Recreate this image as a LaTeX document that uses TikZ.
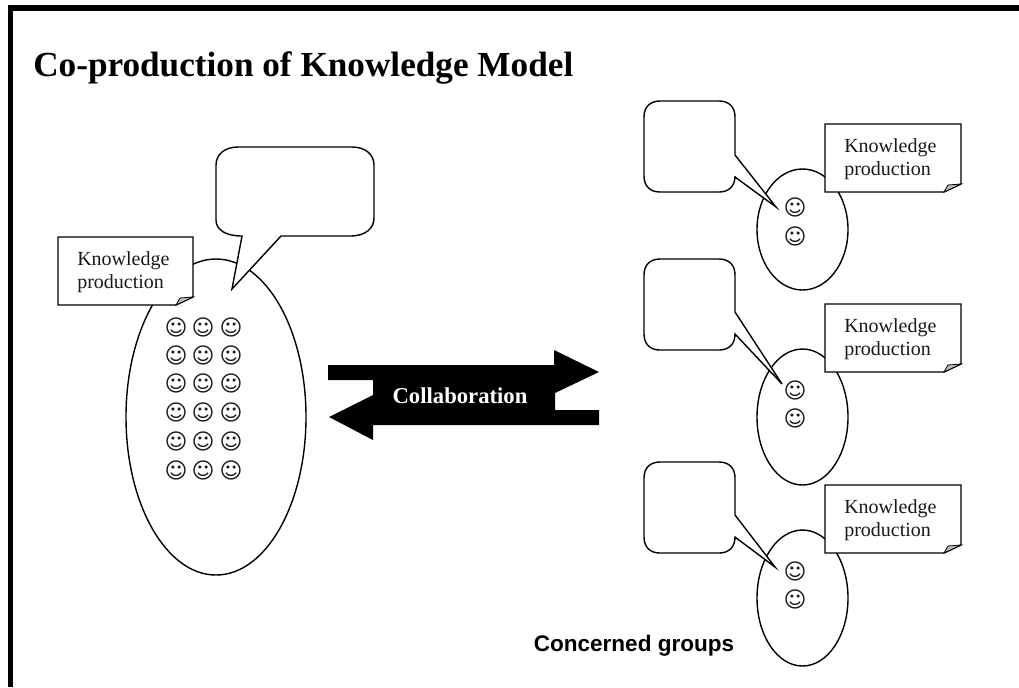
\documentclass[tikz,border=0pt]{standalone}
\usepackage{fontspec}
\usetikzlibrary{shapes.geometric}
\setmainfont{Liberation Serif}
\newfontfamily\smilefont{DejaVu Sans}
\newfontfamily\labelfont{Liberation Sans}
\definecolor{foldgrey}{gray}{0.75}
\tikzset{
  line/.style={draw=black,line width=1.05pt},
  blob/.style={line,fill=white},
  oval/.style={blob,ellipse,inner sep=0pt},
  notetext/.style={font=\fontsize{15pt}{17.25pt}\selectfont,align=left,anchor=base west,inner sep=0pt,text=black!90},
  smile/.style={font=\smilefont\fontsize{16.5pt}{17pt}\selectfont,inner sep=0pt,text=black!90},
}
\newcommand{\notebox}[5]{% name, x, y, h, width
  \path[blob] (#2,#3) -- (#2+#5,#3) -- (#2+#5,#3+#4-8) -- (#2+#5-17,#3+#4) -- (#2,#3+#4) -- cycle;
  \path[line,fill=foldgrey,line width=0.6pt] (#2+#5-17,#3+#4) -- (#2+#5-13,#3+#4-7) -- (#2+#5,#3+#4-8) -- cycle;
  \node[notetext] (#1a) at (#2+19,#3+28) {Knowledge};
  \node[notetext] (#1b) at (#2+19,#3+51) {production};
}
\newcommand{\smallcallout}[4]{% y top, tail start y, tip x, tip y
  \path[blob] (660,#1) -- (719,#1) .. controls (729,#1) and (735,#1+6) .. (735,#1+16)
   -- (735,#2) -- (#3,#4) -- (735,#2+22) -- (735,#1+75)
   .. controls (735,#1+85) and (729,#1+91) .. (719,#1+91)
   -- (660,#1+91) .. controls (650,#1+91) and (644,#1+85) .. (644,#1+75)
   -- (644,#1+16) .. controls (644,#1+6) and (650,#1) .. (660,#1) -- cycle;
}
\begin{document}
\begin{tikzpicture}[x=0.75pt,y=-0.75pt]
\useasboundingbox (0,0) rectangle (1019,687);
% frame
\fill[black] (8,5) rectangle (1019,11);
\fill[black] (8,5) rectangle (13,33);
\fill[black] (7.5,33) rectangle (12.5,687);
% title
\node[anchor=base west,inner sep=0pt,font=\bfseries\fontsize{26.4pt}{30pt}\selectfont] (title) at (33,76) {Co-production of Knowledge Model};
% large group
\node[oval,minimum width=135pt,minimum height=237pt] (big) at (216,417) {};
\notebox{bignote}{58}{237}{68}{135}
\path[blob] (238,147) -- (352,147) .. controls (366,147) and (374,155) .. (374,165)
  -- (374,218) .. controls (374,228) and (366,236) .. (350,236)
  -- (281,236) -- (232,289) -- (242,236)
  .. controls (226,236) and (216,230) .. (216,220)
  -- (216,165) .. controls (216,155) and (224,147) .. (238,147) -- cycle;
\foreach \y [count=\r] in {327,355,383,412,441,470}
  \foreach \x [count=\c] in {176,203,231}
    \node[smile] (s\r\c) at (\x,\y) {☺};
% double arrow
\fill[black] (328,365) -- (554,365) -- (554,350) -- (599,372) -- (555,393) -- (555,410)
  -- (599,410) -- (599,425) -- (373,425) -- (373,440) -- (329,417) -- (373,395) -- (373,380) -- (328,380) -- cycle;
\node[font=\bfseries\fontsize{17pt}{20pt}\selectfont,text=white,inner sep=0pt] (collab) at (460,396) {Collaboration};
% group 1
\node[oval,minimum width=68.25pt,minimum height=90.75pt] (g1) at (802.5,229.5) {};
\notebox{note1}{825}{124}{68}{136}
\smallcallout{101}{155}{776}{207}
\node[smile] (s1a) at (795,207) {☺};
\node[smile] (s1b) at (795,236) {☺};
% group 2
\node[oval,minimum width=68.25pt,minimum height=102pt] (g2) at (802.5,417) {};
\notebox{note2}{825}{304}{68}{136}
\smallcallout{259}{312}{782}{384}
\node[smile] (s2a) at (795,390) {☺};
\node[smile] (s2b) at (795,418) {☺};
% group 3
\node[oval,minimum width=68.25pt,minimum height=102pt] (g3) at (802.5,598) {};
\notebox{note3}{825}{485}{68}{136}
\smallcallout{462}{515}{775}{567}
\node[smile] (s3a) at (795,571) {☺};
\node[smile] (s3b) at (795,599) {☺};
% label
\node[font=\labelfont\bfseries\fontsize{16.9pt}{20pt}\selectfont,inner sep=0pt,anchor=base] (cg) at (634,651) {Concerned groups};
\end{tikzpicture}
\end{document}
